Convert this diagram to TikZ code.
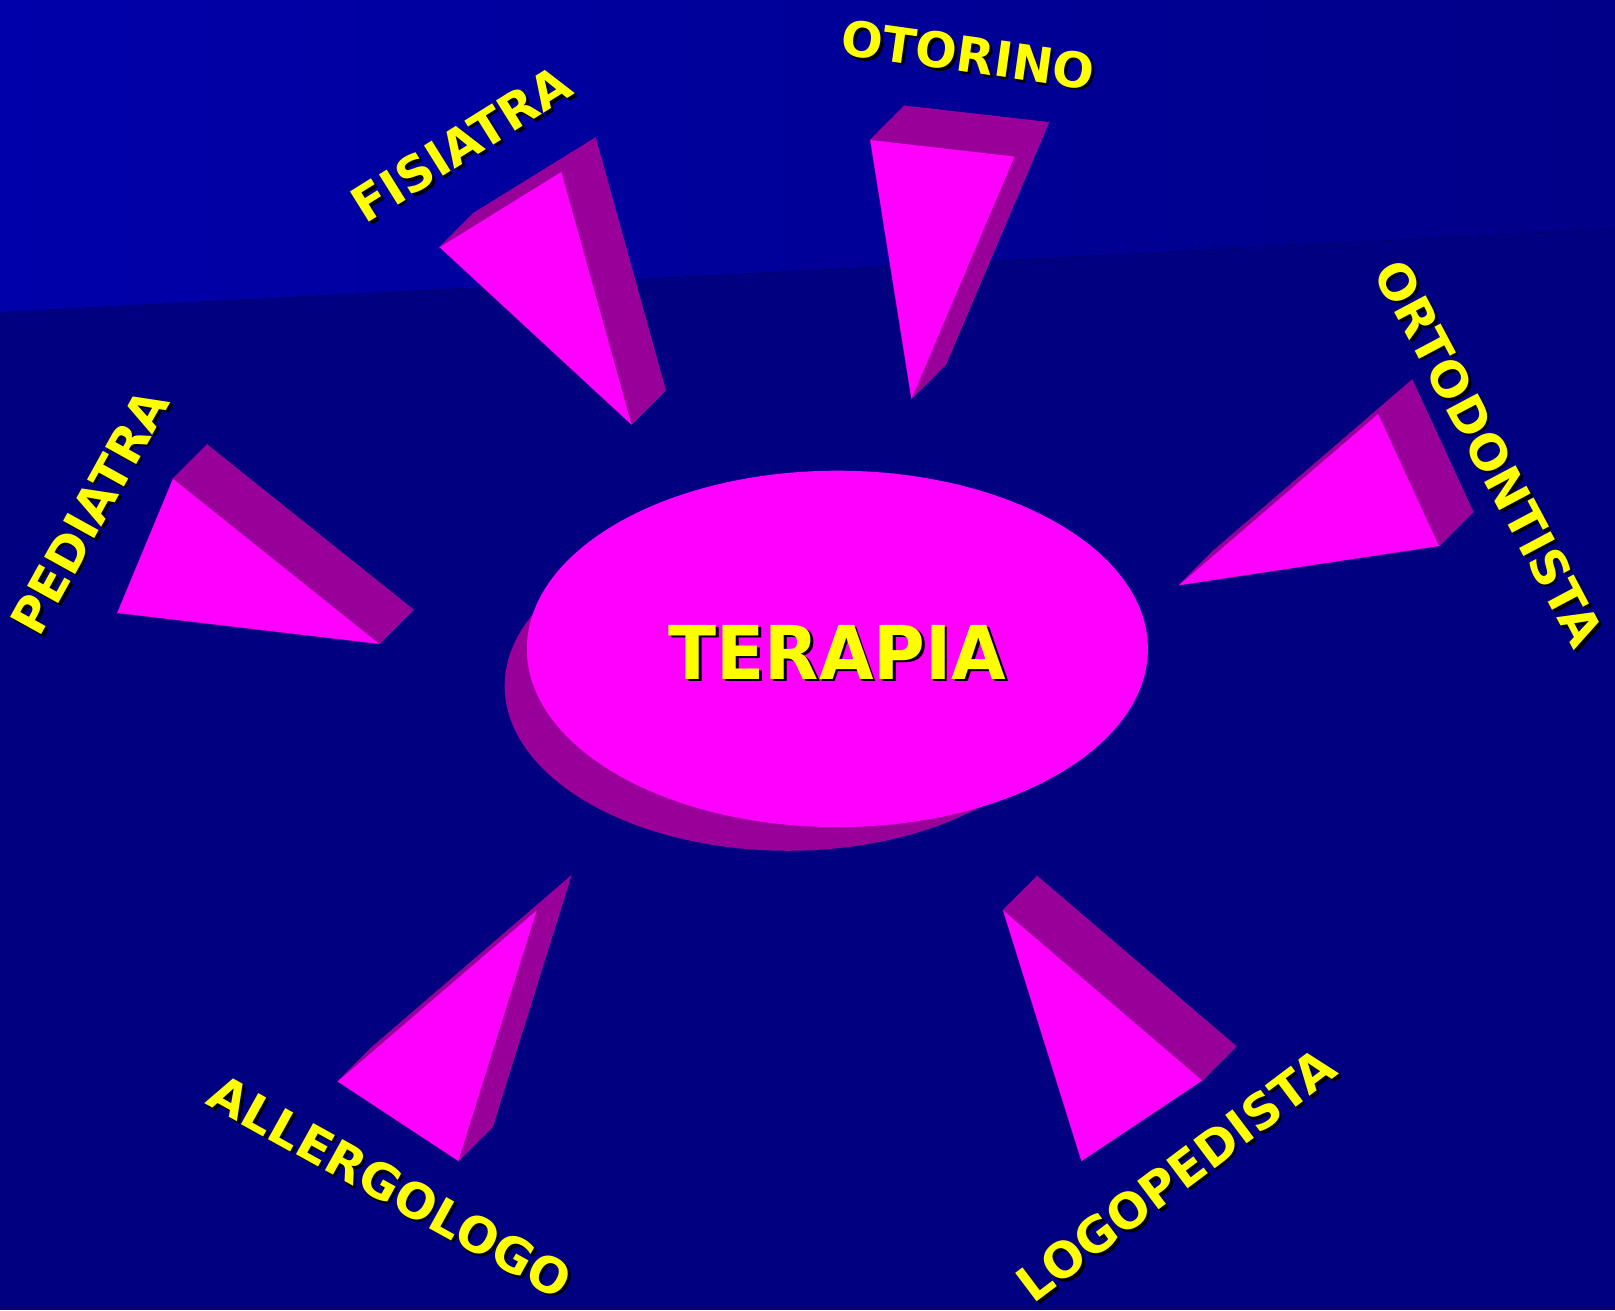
\documentclass[tikz,border=0pt]{standalone}
\usepackage{fontspec}
\setmainfont{DejaVu Sans}
\usepackage{tikz}
\usetikzlibrary{shapes.geometric}

\definecolor{navybg}{HTML}{000080}
\definecolor{skybg}{HTML}{0000AA}
\definecolor{skyend}{HTML}{000088}
\definecolor{facemag}{HTML}{FF00FF}
\definecolor{sidemag}{HTML}{990099}
\definecolor{lblyel}{HTML}{FFFF00}

\tikzset{
  face/.style={fill=facemag},
  side/.style={fill=sidemag, draw=sidemag, line width=0.2pt},
  hub/.style={ellipse, fill=facemag, minimum width=60.3mm, minimum height=34.6mm, inner sep=0pt, outer sep=0pt},
  lbl/.style={text=lblyel, inner sep=0pt, font=\fontsize{13.5}{13.5}\selectfont\bfseries},
  biglbl/.style={text=lblyel, inner sep=0pt, xscale=0.95, font=\fontsize{20.5}{20.5}\selectfont\bfseries},
}

% wedge: name, then the three corners of the front face
\newcommand{\prism}[4]{%
  \coordinate (#1-a) at (#2);
  \coordinate (#1-b) at (#3);
  \coordinate (#1-c) at (#4);
  \coordinate (#1-a2) at ([shift={(33,-33)}]#2);
  \coordinate (#1-b2) at ([shift={(33,-33)}]#3);
  \coordinate (#1-c2) at ([shift={(33,-33)}]#4);
  \filldraw[side] (#1-a2) -- (#1-b2) -- (#1-c2) -- cycle;
  \filldraw[side] (#1-a) -- (#1-b) -- (#1-b2) -- (#1-a2) -- cycle;
  \filldraw[side] (#1-b) -- (#1-c) -- (#1-c2) -- (#1-b2) -- cycle;
  \filldraw[side] (#1-c) -- (#1-a) -- (#1-a2) -- (#1-c2) -- cycle;
  \fill[face] (#1-a) -- (#1-b) -- (#1-c) -- cycle;
}

% label with a black drop shadow: style, name, position, angle, text
\newcommand{\shadowlabel}[5]{%
  \node[#1, text=black, rotate=#4] (#2-s) at ([shift={(2.5,2.5)}]#3) {#5};
  \node[#1, rotate=#4] (#2) at (#3) {#5};
}

\begin{document}
\begin{tikzpicture}[x=0.1mm, y=-0.1mm]
\useasboundingbox (0,0) rectangle (1568,1272);
\fill[navybg] (0,0) rectangle (1568,1272);
\fill[left color=skybg, right color=skyend] (0,0) -- (1568,0) -- (1568,222) -- (0,303) -- cycle;

% the six wedges
\prism{fis}{427,240}{545,167}{613,412}
\prism{oto}{845,136}{985,152}{885,387}
\prism{ort}{1338,402}{1397,530}{1145,568}
\prism{ped}{168,465}{368,625}{114,595}
\prism{all}{521,884}{445,1127}{328,1050}
\prism{log}{974,884}{1167,1049}{1050,1127}

% centre
\fill[sidemag] (765,666) ellipse (275 and 160);
\node[hub] (hub) at (813,630) {};
\shadowlabel{biglbl}{terapia}{813,633}{0}{TERAPIA}

% labels
\shadowlabel{lbl}{fisiatra}{448,140}{32}{FISIATRA}
\shadowlabel{lbl}{otorino}{940,53}{-8}{OTORINO}
\shadowlabel{lbl}{ortodontista}{1446,440}{-62}{ORTODONTISTA}
\shadowlabel{lbl}{pediatra}{87,497}{61}{PEDIATRA}
\shadowlabel{lbl}{allergologo}{379,1152}{-29}{ALLERGOLOGO}
\shadowlabel{lbl}{logopedista}{1142,1141}{37}{LOGOPEDISTA}
\end{tikzpicture}
\end{document}
